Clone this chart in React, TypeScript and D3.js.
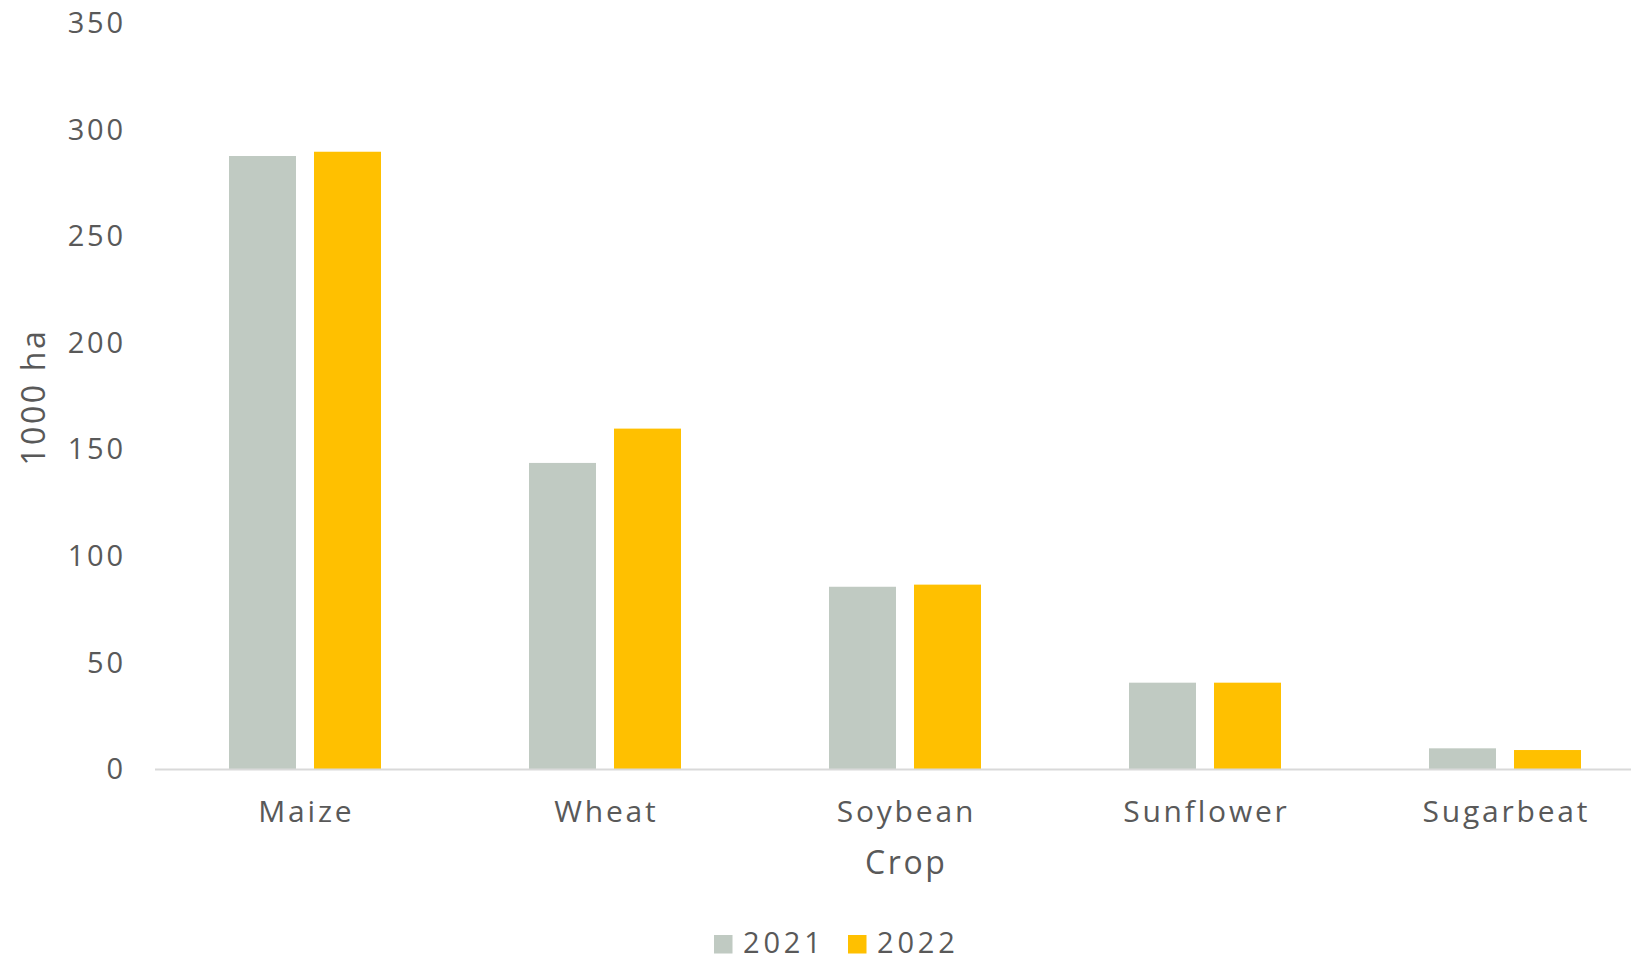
import React from "react";
import * as d3 from "d3";

const categories = ["Maize", "Wheat", "Soybean", "Sunflower", "Sugarbeat"];
const seriesNames = ["2021", "2022"];
const values2021 = [287.6, 143.6, 85.5, 40.5, 9.7];
const values2022 = [289.6, 159.7, 86.5, 40.5, 8.9];
const yTicks = [0, 50, 100, 150, 200, 250, 300, 350];
const colors = ["#C0CAC2", "#FFC000"];

const W = 1631;
const H = 960;
const M = { left: 155, right: 1655, top: 23, bottom: 769 };
const FONT = "'Open Sans', sans-serif";
const TXT = "#595959";

export default function App() {
  const x = d3.scaleBand<string>().domain(categories).range([M.left, M.right]).paddingInner(0).paddingOuter(0);
  const inner = d3.scaleBand<string>().domain(seriesNames).range([74, 226]).paddingInner(18 / 85);
  const y = d3.scaleLinear().domain([0, 350]).range([M.bottom, M.top]);
  const series = [values2021, values2022];

  return (
    <svg width={W} height={H} style={{ position: "absolute", left: 0, top: 0, background: "#fff" }}>
      {yTicks.map((t) => (
        <text key={t} x={123 + 2.8} y={y(t)} dy="0.35em" textAnchor="end" fontFamily={FONT} fontSize={29} letterSpacing={2.8} fill={TXT}>
          {t}
        </text>
      ))}
      {categories.map((c, i) =>
        series.map((s, j) => (
          <rect
            key={c + j}
            x={(x(c) as number) + (inner(seriesNames[j]) as number)}
            y={y(s[i])}
            width={inner.bandwidth()}
            height={y(0) - y(s[i])}
            fill={colors[j]}
          />
        ))
      )}
      <line x1={M.left} x2={W} y1={y(0) + 0.5} y2={y(0) + 0.5} stroke="#D9D9D9" strokeWidth={2} />
      {categories.map((c) => (
        <text key={c} x={(x(c) as number) + x.bandwidth() / 2 + 1.4} y={822} textAnchor="middle" fontFamily={FONT} fontSize={30} letterSpacing={2.8} fill={TXT}>
          {c}
        </text>
      ))}
      <text x={(M.left + M.right) / 2 + 1.3} y={874} textAnchor="middle" fontFamily={FONT} fontSize={32} letterSpacing={2.6} fill={TXT}>
        Crop
      </text>
      <text transform={`translate(45, ${(M.top + M.bottom) / 2 + 1.3}) rotate(-90)`} textAnchor="middle" fontFamily={FONT} fontSize={32} letterSpacing={2.6} fill={TXT}>
        1000 ha
      </text>
      {seriesNames.map((n, j) => {
        const lx = j === 0 ? 714 : 848;
        return (
          <g key={n}>
            <rect x={lx} y={935} width={18.5} height={18.5} fill={colors[j]} />
            <text x={lx + 29} y={953} fontFamily={FONT} fontSize={29} letterSpacing={3.8} fill={TXT}>
              {n}
            </text>
          </g>
        );
      })}
    </svg>
  );
}
